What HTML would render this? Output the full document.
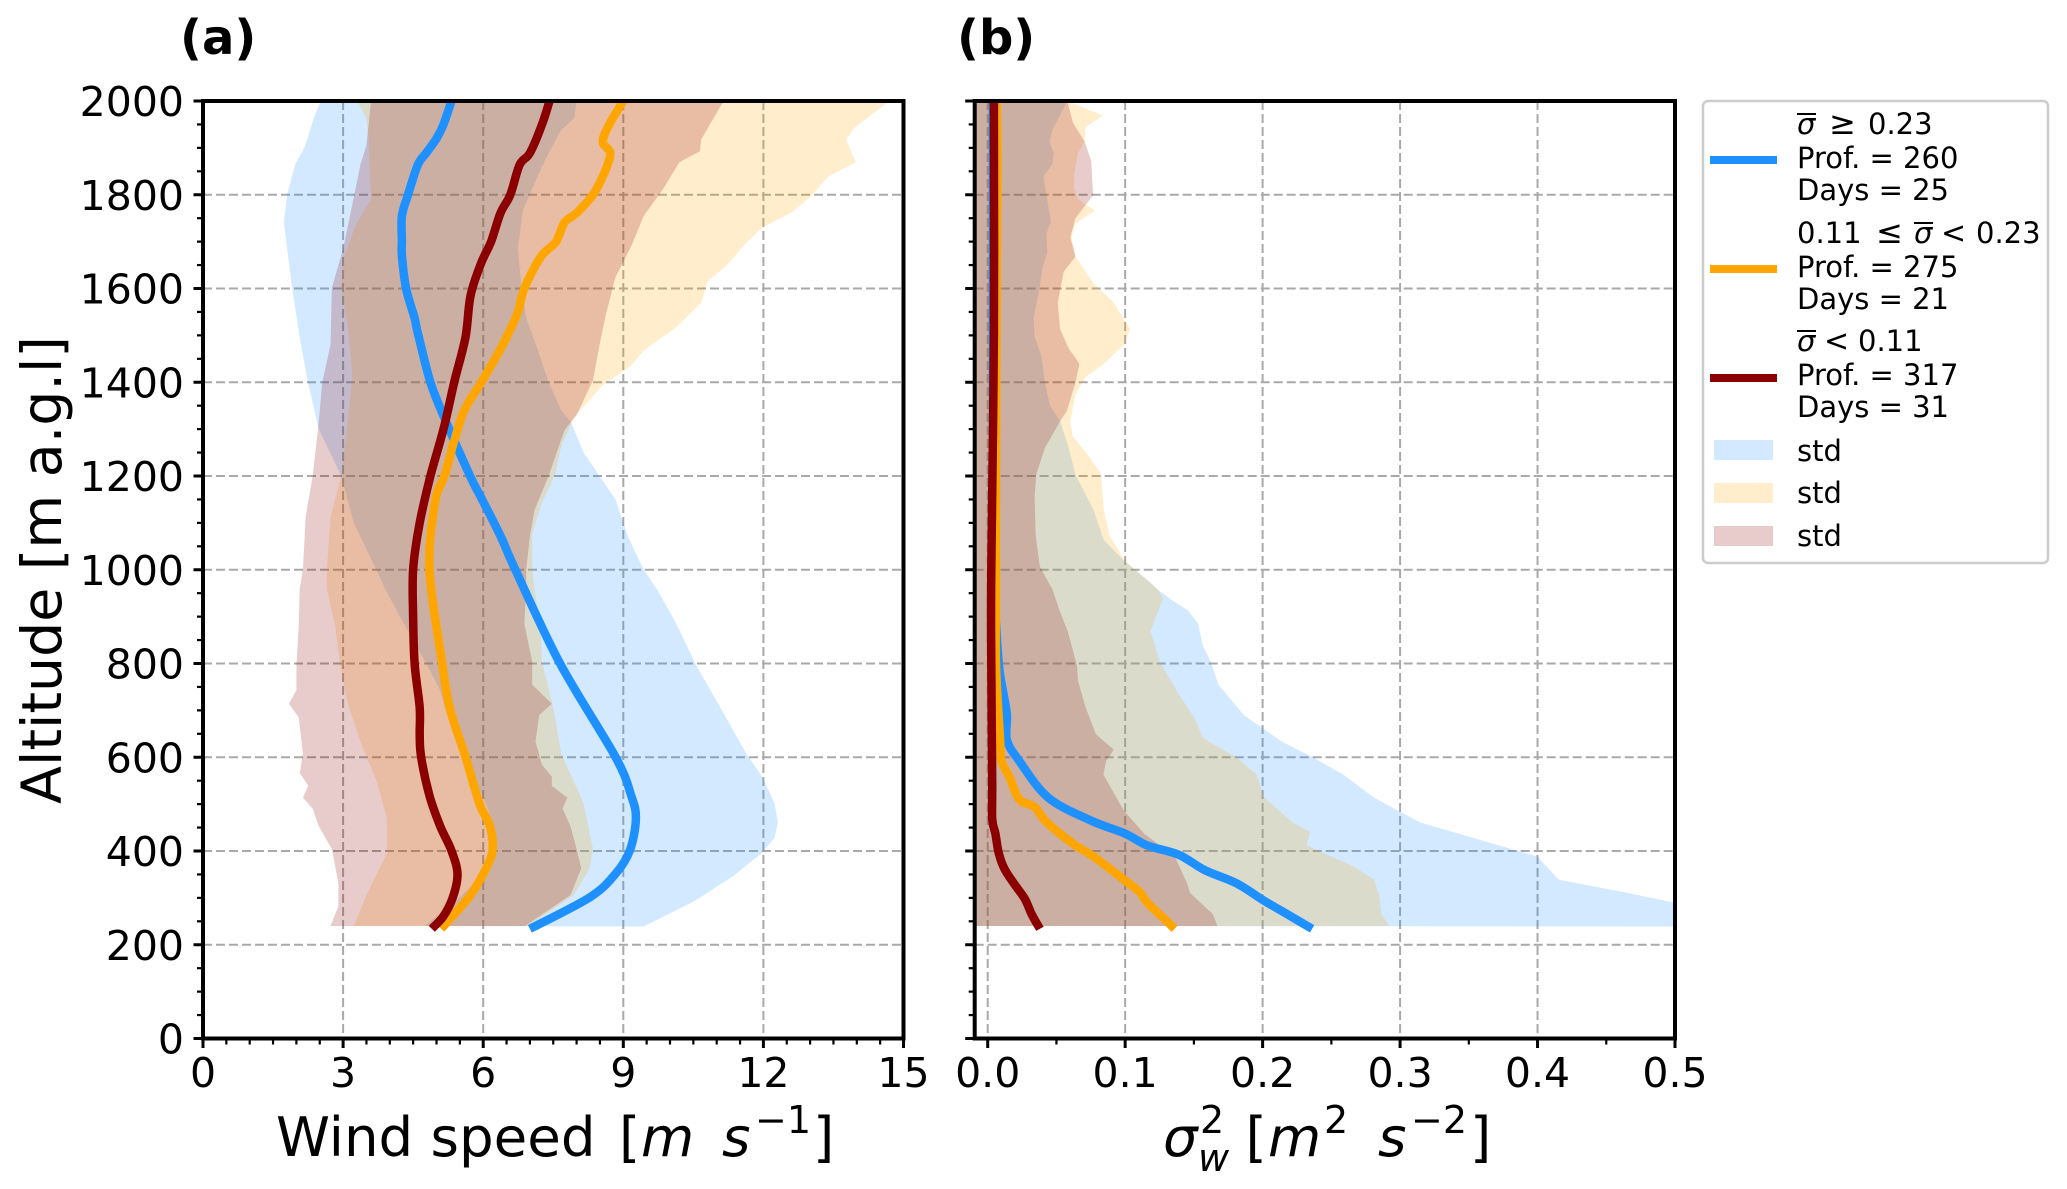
<!DOCTYPE html>
<html lang="en">
<head>
<meta charset="utf-8">
<title>Wind speed and vertical velocity variance profiles</title>
<style>
html,body{margin:0;padding:0;background:#fff;}
svg{display:block;font-family:"DejaVu Sans","Liberation Sans",sans-serif;}
</style>
</head>
<body>
<svg id="chart" xmlns="http://www.w3.org/2000/svg" width="2067" height="1189" viewBox="0 0 2067 1189">
  <defs>
    <clipPath id="clip-a"><rect x="203" y="101" width="700.5" height="937.5"/></clipPath>
    <clipPath id="clip-b"><rect x="974.7" y="101" width="700.3" height="937.5"/></clipPath>
  </defs>
  <g id="panel-a"></g>
  <g id="panel-b"></g>

  <text x="180" y="54" font-size="48" font-weight="bold">(a)</text>
  <text x="957" y="54" font-size="48" font-weight="bold">(b)</text>

  <text transform="translate(61,570) rotate(-90)" text-anchor="middle" font-size="55.3">Altitude [m a.g.l]</text>

  <g font-size="54.6">
    <text x="276" y="1156">Wind speed</text>
    <text x="619" y="1156">[</text>
    <text x="641" y="1156" font-style="italic">m</text>
    <text x="722" y="1156" font-style="italic">s</text>
    <text x="755" y="1133" font-size="38">−1</text>
    <text x="813" y="1156">]</text>
  </g>
  <g font-size="54.6">
    <text x="1163" y="1156" font-style="italic">σ</text>
    <text x="1200" y="1133" font-size="38">2</text>
    <text x="1198" y="1171" font-size="38" font-style="italic">w</text>
    <text x="1245.5" y="1156">[</text>
    <text x="1268" y="1156" font-style="italic">m</text>
    <text x="1324" y="1133" font-size="38">2</text>
    <text x="1378" y="1156" font-style="italic">s</text>
    <text x="1411" y="1133" font-size="38">−2</text>
    <text x="1470" y="1156">]</text>
  </g>

  <g font-size="29" fill="#000">
    <rect x="1703" y="101" width="345" height="462" rx="5" ry="5" fill="#fff" stroke="#cccccc" stroke-width="2.5"/>
    <line x1="1710" x2="1777" y1="160" y2="160" stroke="#1e90ff" stroke-width="8"/>
    <line x1="1710" x2="1777" y1="269" y2="269" stroke="#ffa500" stroke-width="8"/>
    <line x1="1710" x2="1777" y1="378" y2="378" stroke="#8b0000" stroke-width="8"/>
    <line x1="1797" x2="1816" y1="114" y2="114" stroke="#000" stroke-width="2"/>
    <line x1="1914" x2="1933" y1="223" y2="223" stroke="#000" stroke-width="2"/>
    <line x1="1797" x2="1816" y1="331" y2="331" stroke="#000" stroke-width="2"/>
    <text>
      <tspan x="1797" y="134" font-style="italic">σ</tspan><tspan x="1829" y="134" font-size="32">≥</tspan><tspan x="1868" y="134">0.23</tspan>
      <tspan x="1797" y="168">Prof. = 260</tspan>
      <tspan x="1797" y="200">Days = 25</tspan>
    </text>
    <text>
      <tspan x="1797" y="243">0.11</tspan><tspan x="1876" y="243" font-size="32">≤</tspan><tspan x="1914" y="243" font-style="italic">σ</tspan><tspan x="1941" y="243" font-size="30">&lt;</tspan><tspan x="1976" y="243">0.23</tspan>
      <tspan x="1797" y="277">Prof. = 275</tspan>
      <tspan x="1797" y="309">Days = 21</tspan>
    </text>
    <text>
      <tspan x="1797" y="351" font-style="italic">σ</tspan><tspan x="1824" y="351" font-size="30">&lt;</tspan><tspan x="1858" y="351">0.11</tspan>
      <tspan x="1797" y="385">Prof. = 317</tspan>
      <tspan x="1797" y="417">Days = 31</tspan>
    </text>
    <rect x="1714" y="440" width="59" height="20" fill="#1e90ff" fill-opacity="0.2"/>
    <rect x="1714" y="483" width="59" height="20" fill="#ffa500" fill-opacity="0.2"/>
    <rect x="1714" y="526" width="59" height="20" fill="#8b0000" fill-opacity="0.2"/>
    <text x="1797" y="461">std</text>
    <text x="1797" y="503">std</text>
    <text x="1797" y="546">std</text>
  </g>
</svg>

<script>
// ---------- tick arrays ----------
const altMajorTicks = [0,200,400,600,800,1000,1200,1400,1600,1800,2000];
const altMinorTicks = [50,100,150,250,300,350,450,500,550,650,700,750,850,900,950,1050,1100,1150,1250,1300,1350,1450,1500,1550,1650,1700,1750,1850,1900,1950];
const windMajorTicks = [0,3,6,9,12,15];
const windMinorTicks = [0.5,1,1.5,2,2.5,3.5,4,4.5,5,5.5,6.5,7,7.5,8,8.5,9.5,10,10.5,11,11.5,12.5,13,13.5,14,14.5];
const varMajorTicks = [0,0.1,0.2,0.3,0.4,0.5];
const varMajorLabels = ["0.0","0.1","0.2","0.3","0.4","0.5"];
const varMinorTicks = [0.05,0.15,0.25,0.35,0.45];

// ---------- panel (a) wind speed: means ----------
const aBlueMeanAlt = [2000,1950,1920,1889,1864,1800,1755,1700,1670,1600,1537,1505,1400,1317,1200,1153,1072,1000,801,601,518,469,401,351,301,234];
const aBlueMeanVal = [5.32,5.15,5.0,4.78,4.6,4.39,4.26,4.26,4.26,4.35,4.53,4.6,4.87,5.2,5.72,5.96,6.37,6.69,7.64,8.83,9.17,9.27,9.14,8.83,8.28,7.0];
const aOrangeMeanAlt = [2000,1950,1913,1889,1848,1800,1761,1741,1700,1667,1600,1549,1496,1455,1400,1341,1275,1200,1145,1000,801,706,601,501,454,401,351,301,234];
const aOrangeMeanVal = [9.0,8.7,8.56,8.72,8.6,8.35,8.0,7.74,7.56,7.23,6.88,6.74,6.5,6.28,5.96,5.6,5.38,5.17,4.97,4.85,5.12,5.28,5.62,5.92,6.14,6.2,6.0,5.69,5.1];
const aRedMeanAlt = [2000,1950,1889,1864,1800,1761,1700,1655,1585,1496,1400,1300,1200,1100,1000,901,801,706,649,601,518,453,401,351,301,261,234];
const aRedMeanVal = [7.42,7.26,7.0,6.78,6.58,6.37,6.17,5.96,5.73,5.62,5.38,5.15,4.87,4.64,4.5,4.5,4.53,4.64,4.64,4.67,4.85,5.08,5.32,5.45,5.35,5.15,4.9];

// ---------- panel (a) wind speed: std band edges ----------
const aBlueLowAlt = [2000,1963,1902,1864,1800,1741,1600,1495,1398,1300,1200,1100,1000,959,878,800,743,700,600,550,500,450,400,350,301,240];
const aBlueLowVal = [2.52,2.37,2.18,1.97,1.8,1.73,1.91,2.07,2.25,2.48,2.96,3.23,3.71,3.9,4.34,4.78,5.08,5.2,5.69,5.83,6.06,6.24,6.2,6.0,5.5,4.74];
const aBlueHighAlt = [2000,1963,1938,1889,1832,1767,1685,1604,1537,1480,1400,1340,1317,1250,1200,1150,1070,1000,959,886,800,706,608,559,502,461,428,396,347,294,239];
const aBlueHighVal = [8.0,7.95,7.67,7.4,7.13,6.85,6.74,6.82,6.92,7.13,7.4,7.67,7.87,8.15,8.49,8.83,9.1,9.44,9.72,10.13,10.54,11.08,11.63,11.97,12.24,12.31,12.24,11.97,11.36,10.54,9.44];
const aOrangeLowAlt = [2000,1963,1913,1848,1791,1734,1660,1602,1520,1414,1316,1200,1112,1000,959,878,796,714,633,551,469,396,306,240];
const aOrangeLowVal = [3.3,3.5,3.55,3.57,3.6,3.26,3.0,2.96,3.1,3.2,3.1,2.96,2.73,2.65,2.65,2.83,2.94,3.1,3.37,3.71,3.94,3.94,3.5,3.23];
const aOrangeHighAlt = [2000,1943,1918,1869,1840,1795,1762,1730,1697,1648,1615,1570,1517,1468,1435,1394,1325,1263,1200,1143,1077,1000,959,878,804,747,690,608,535,502,404,363,306,240];
const aOrangeHighVal = [14.7,13.95,13.77,13.98,13.4,13.0,12.6,11.97,11.63,11.2,10.8,10.67,10.13,9.44,9.17,8.56,7.94,7.67,7.53,7.26,7.05,7.05,7.1,7.23,7.26,7.4,7.53,7.67,8.0,8.15,8.35,8.28,7.94,6.96];
const aRedLowAlt = [2000,1905,1864,1766,1684,1602,1480,1398,1316,1200,1114,1000,959,878,796,743,714,685,608,567,539,514,490,453,404,331,282,240];
const aRedLowVal = [3.6,3.5,3.37,3.17,3.0,2.76,2.73,2.55,2.48,2.35,2.2,2.14,2.07,2.05,2.0,2.0,1.84,2.05,2.14,2.07,2.25,2.14,2.35,2.48,2.76,2.9,2.9,2.73];
const aRedHighAlt = [2000,1975,1918,1893,1869,1812,1755,1690,1624,1542,1485,1404,1330,1298,1200,1128,1071,1000,959,885,804,755,714,690,633,584,559,539,514,490,453,404,363,306,240];
const aRedHighVal = [11.15,11.0,10.67,10.64,10.2,9.85,9.44,9.17,8.83,8.62,8.5,8.35,8.0,7.74,7.4,7.1,7.0,6.92,6.92,6.88,7.05,7.05,7.47,7.2,7.12,7.26,7.47,7.47,7.8,7.7,7.87,8.0,8.1,7.87,6.9];

// ---------- panel (b) variance: means ----------
const bBlueMeanAlt = [2000,1400,1000,959,801,743,690,637,592,514,465,437,412,392,359,331,294,265,234];
const bBlueMeanVal = [0.0038,0.0038,0.004,0.0045,0.008,0.011,0.014,0.014,0.023,0.044,0.075,0.1,0.116,0.139,0.158,0.181,0.201,0.218,0.236];
const bOrangeMeanAlt = [2000,1864,1643,1200,959,801,637,592,559,510,494,461,416,388,339,314,290,265,234];
const bOrangeMeanVal = [0.0065,0.007,0.0065,0.006,0.006,0.006,0.009,0.01,0.0156,0.023,0.034,0.043,0.062,0.077,0.099,0.11,0.116,0.125,0.136];
const bRedMeanAlt = [2000,1500,1000,801,551,469,437,396,363,331,298,265,234];
const bRedMeanVal = [0.0045,0.0045,0.0026,0.0026,0.0033,0.0033,0.0056,0.008,0.012,0.019,0.027,0.032,0.038];

// ---------- panel (b) variance: std band edges ----------
const bBlueLowAlt = [2000,1000,240];
const bBlueLowVal = [-0.02,-0.02,-0.03];
const bBlueHighAlt = [2000,1938,1913,1889,1864,1840,1799,1742,1717,1676,1644,1603,1538,1497,1456,1399,1350,1317,1260,1203,1129,1064,1019,974,959,935,914,886,837,804,755,690,633,600,563,514,461,388,339,314,291,239];
const bBlueHighVal = [0.058,0.047,0.045,0.048,0.047,0.0405,0.0427,0.046,0.0427,0.0434,0.0397,0.0379,0.0334,0.0341,0.039,0.0416,0.0453,0.0527,0.059,0.0638,0.0768,0.0843,0.0991,0.1177,0.1232,0.134,0.1455,0.1529,0.1566,0.1622,0.1678,0.1863,0.2142,0.2365,0.2587,0.281,0.3144,0.3998,0.4154,0.4592,0.4981,0.515];
const bOrangeLowAlt = [2000,1000,240];
const bOrangeLowVal = [-0.02,-0.02,-0.02];
const bOrangeHighAlt = [2000,1969,1944,1913,1889,1848,1815,1791,1766,1750,1738,1709,1668,1611,1570,1513,1480,1439,1411,1374,1317,1284,1243,1206,1129,1072,1019,974,959,939,869,804,730,681,641,600,563,514,461,441,412,396,367,339,306,265,240];
const bOrangeHighVal = [0.058,0.0837,0.0713,0.0705,0.0657,0.0631,0.0627,0.0657,0.078,0.0694,0.0638,0.0609,0.0638,0.0769,0.0917,0.1036,0.0991,0.0843,0.0713,0.0638,0.0601,0.062,0.0731,0.0824,0.0843,0.0887,0.0999,0.1177,0.1232,0.1277,0.1184,0.1251,0.1399,0.151,0.1566,0.1808,0.1956,0.2012,0.2216,0.2346,0.232,0.2439,0.2661,0.2811,0.2847,0.2866,0.2921];
const bRedLowAlt = [2000,1000,240];
const bRedLowVal = [-0.02,-0.02,-0.02];
const bRedHighAlt = [2000,1954,1913,1872,1799,1750,1709,1668,1636,1570,1513,1472,1439,1399,1338,1317,1260,1203,1153,1072,1007,959,910,869,796,763,706,649,616,592,563,486,437,388,331,310,265,240];
const bRedHighVal = [0.058,0.062,0.0705,0.0753,0.0767,0.0638,0.0601,0.0638,0.0553,0.0509,0.0527,0.059,0.0668,0.0638,0.0575,0.0527,0.0416,0.0353,0.0341,0.0349,0.0379,0.047,0.0527,0.0582,0.065,0.0657,0.0713,0.0787,0.0917,0.0861,0.0842,0.0991,0.1139,0.1362,0.145,0.1474,0.164,0.167];

// ---------- axis functions ----------
const NS = "http://www.w3.org/2000/svg";
const TOP = 101, BOTTOM = 1038.5;
const yAlt = a => BOTTOM - (a / 2000) * (BOTTOM - TOP);
const xWind = v => 203 + (v / 15) * 700.5;
const xVar = v => 987.7 + (v / 0.5) * 687.3;

function el(parent, tag, attrs) {
  const n = document.createElementNS(NS, tag);
  for (const k in attrs) n.setAttribute(k, attrs[k]);
  parent.appendChild(n);
  return n;
}
function band(parent, xf, name, color, lowAlt, lowVal, highAlt, highVal) {
  const pts = [];
  lowAlt.forEach((a, i) => pts.push(xf(lowVal[i]).toFixed(1) + "," + yAlt(a).toFixed(1)));
  for (let i = highAlt.length - 1; i >= 0; i--) pts.push(xf(highVal[i]).toFixed(1) + "," + yAlt(highAlt[i]).toFixed(1));
  const p = el(parent, "polygon", {points: pts.join(" "), fill: color, "fill-opacity": 0.2});
  
  
}
// Mean profile drawn as a smooth curve through the read-off points.
function meanLine(parent, xf, name, color, alts, vals) {
  const P = alts.map((a, i) => [xf(vals[i]), yAlt(a)]);
  let d = "M" + P[0][0].toFixed(1) + " " + P[0][1].toFixed(1);
  for (let i = 0; i < P.length - 1; i++) {
    const p0 = P[Math.max(i - 1, 0)], p1 = P[i], p2 = P[i + 1], p3 = P[Math.min(i + 2, P.length - 1)];
    const c1x = p1[0] + (p2[0] - p0[0]) / 6, c1y = p1[1] + (p2[1] - p0[1]) / 6;
    const c2x = p2[0] - (p3[0] - p1[0]) / 6, c2y = p2[1] - (p3[1] - p1[1]) / 6;
    d += " C" + c1x.toFixed(1) + " " + c1y.toFixed(1) + " " + c2x.toFixed(1) + " " + c2y.toFixed(1) + " " + p2[0].toFixed(1) + " " + p2[1].toFixed(1);
  }
  const p = el(parent, "path", {d: d, fill: "none", stroke: color, "stroke-width": 8.5, "stroke-linejoin": "round", "stroke-linecap": "butt"});
  
  
}
function gridLine(parent, x1, y1, x2, y2) {
  const l = el(parent, "line", {x1, y1, x2, y2, stroke: "#a9a9a9", "stroke-width": 2, "stroke-dasharray": "9 4"});
  
  
}
function tick(parent, x1, y1, x2, y2, w) {
  const l = el(parent, "line", {x1, y1, x2, y2, stroke: "#000", "stroke-width": w});
  
  
}
function label(parent, x, y, anchor, str) {
  const t = el(parent, "text", {x, y, "text-anchor": anchor, "font-size": 41, fill: "#000"});
  t.textContent = str;
  
  
}

function drawPanel(group, clipId, left, right, xf, xMajor, xLabels, xMinor, xGrid, showYLabels, bands, lines) {
  const g = document.getElementById(group);
  const grid = el(g, "g", {});
  
  
  altMajorTicks.slice(1, -1).forEach(a => gridLine(grid, left, yAlt(a), right, yAlt(a)));
  xGrid.forEach(v => gridLine(grid, xf(v), TOP, xf(v), BOTTOM));

  const plot = el(g, "g", {"clip-path": "url(#" + clipId + ")"});
  
  
  bands.forEach(b => band(plot, xf, b[0], b[1], b[2], b[3], b[4], b[5]));
  lines.forEach(l => meanLine(plot, xf, l[0], l[1], l[2], l[3]));

  const frame = el(g, "rect", {x: left, y: TOP, width: right - left, height: BOTTOM - TOP, fill: "none", stroke: "#000", "stroke-width": 4});
  
  

  altMajorTicks.forEach(a => tick(g, left - 9.5, yAlt(a), left, yAlt(a), 3));
  altMinorTicks.forEach(a => tick(g, left - 6, yAlt(a), left, yAlt(a), 2.2));
  xMajor.forEach(v => tick(g, xf(v), BOTTOM, xf(v), BOTTOM + 9.5, 3));
  xMinor.forEach(v => tick(g, xf(v), BOTTOM, xf(v), BOTTOM + 6, 2.2));

  if (showYLabels) altMajorTicks.forEach(a => label(g, 184, yAlt(a) + 15, "end", String(a)));
  xMajor.forEach((v, i) => label(g, xf(v), 1087, "middle", xLabels[i]));
}

drawPanel("panel-a", "clip-a", 203, 903.5, xWind, windMajorTicks, windMajorTicks.map(String), windMinorTicks, windMajorTicks.slice(1, -1), true,
  [["band-high-sigma", "#1e90ff", aBlueLowAlt, aBlueLowVal, aBlueHighAlt, aBlueHighVal],
   ["band-mid-sigma", "#ffa500", aOrangeLowAlt, aOrangeLowVal, aOrangeHighAlt, aOrangeHighVal],
   ["band-low-sigma", "#8b0000", aRedLowAlt, aRedLowVal, aRedHighAlt, aRedHighVal]],
  [["line-high-sigma", "#1e90ff", aBlueMeanAlt, aBlueMeanVal],
   ["line-mid-sigma", "#ffa500", aOrangeMeanAlt, aOrangeMeanVal],
   ["line-low-sigma", "#8b0000", aRedMeanAlt, aRedMeanVal]]);

drawPanel("panel-b", "clip-b", 974.7, 1675, xVar, varMajorTicks, varMajorLabels, varMinorTicks, varMajorTicks.slice(0, -1), false,
  [["band-high-sigma", "#1e90ff", bBlueLowAlt, bBlueLowVal, bBlueHighAlt, bBlueHighVal],
   ["band-mid-sigma", "#ffa500", bOrangeLowAlt, bOrangeLowVal, bOrangeHighAlt, bOrangeHighVal],
   ["band-low-sigma", "#8b0000", bRedLowAlt, bRedLowVal, bRedHighAlt, bRedHighVal]],
  [["line-high-sigma", "#1e90ff", bBlueMeanAlt, bBlueMeanVal],
   ["line-mid-sigma", "#ffa500", bOrangeMeanAlt, bOrangeMeanVal],
   ["line-low-sigma", "#8b0000", bRedMeanAlt, bRedMeanVal]]);
</script>
</body>
</html>
